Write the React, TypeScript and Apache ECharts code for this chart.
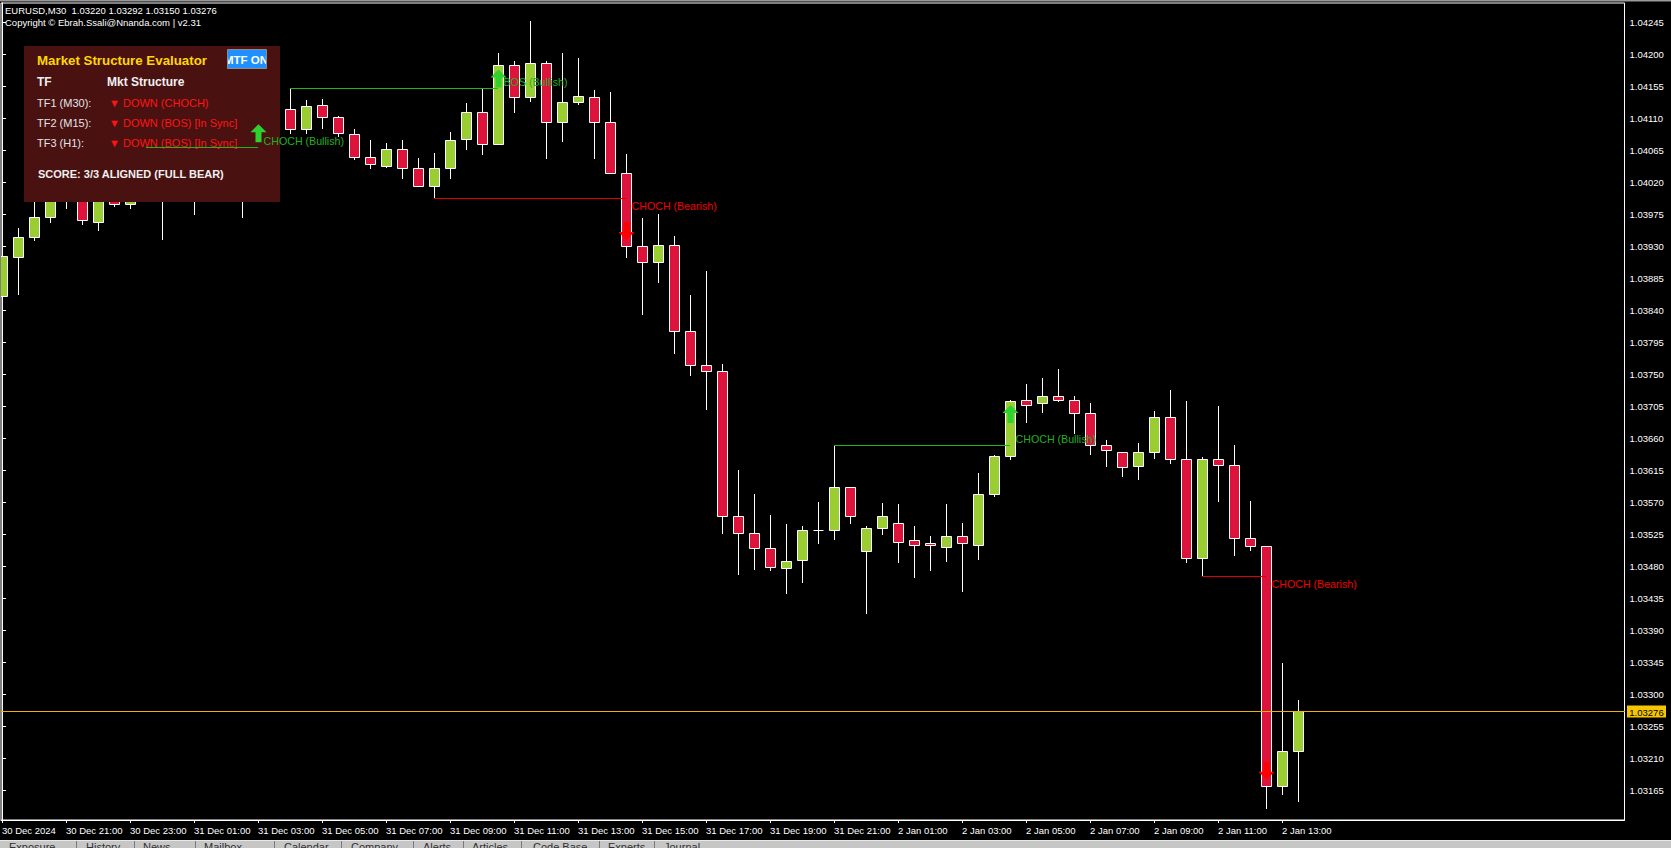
import React, { useEffect, useRef } from "react";
import * as echarts from "echarts";

// ---------- DATA ----------
const opens = [
  1.03859, 1.03915, 1.03943, 1.03971, 1.04023, 1.04000, 1.03964, 1.04020, 1.03989, 1.04040,
  1.04010, 1.04020, 1.04000, 1.04025, 1.04005, 1.04030, 1.04015, 1.04107, 1.04123, 1.04094,
  1.04128, 1.04111, 1.04087, 1.04055, 1.04043, 1.04067, 1.04039, 1.04015, 1.04039, 1.04080,
  1.04119, 1.04074, 1.04184, 1.04139, 1.04187, 1.04104, 1.04132, 1.04139, 1.04105, 1.04032,
  1.03930, 1.03908, 1.03932, 1.03810, 1.03762, 1.03754, 1.03550, 1.03526, 1.03505, 1.03477,
  1.03488, 1.03530, 1.03530, 1.03591, 1.03501, 1.03534, 1.03541, 1.03516, 1.03512, 1.03507,
  1.03522, 1.03510, 1.03581, 1.03634, 1.03713, 1.03709, 1.03719, 1.03714, 1.03695, 1.03650,
  1.03641, 1.03620, 1.03640, 1.03689, 1.03631, 1.03491, 1.03631, 1.03622, 1.03519, 1.03508,
  1.03170, 1.03220,
];
const highs = [
  1.03924, 1.03956, 1.03995, 1.04037, 1.04045, 1.04010, 1.04025, 1.04030, 1.04050, 1.04069,
  1.04040, 1.04035, 1.04045, 1.04040, 1.04045, 1.04040, 1.04111, 1.04130, 1.04152, 1.04135,
  1.04137, 1.04113, 1.04095, 1.04079, 1.04075, 1.04079, 1.04054, 1.04061, 1.04090, 1.04131,
  1.04151, 1.04201, 1.04190, 1.04246, 1.04190, 1.04201, 1.04195, 1.04149, 1.04146, 1.04059,
  1.03969, 1.03975, 1.03944, 1.03861, 1.03895, 1.03764, 1.03615, 1.03581, 1.03552, 1.03539,
  1.03536, 1.03570, 1.03650, 1.03591, 1.03536, 1.03568, 1.03567, 1.03536, 1.03522, 1.03567,
  1.03540, 1.03611, 1.03636, 1.03714, 1.03736, 1.03744, 1.03757, 1.03719, 1.03709, 1.03657,
  1.03641, 1.03653, 1.03698, 1.03728, 1.03712, 1.03633, 1.03705, 1.03650, 1.03571, 1.03508,
  1.03343, 1.03292,
];
const lows = [
  1.03852, 1.03863, 1.03939, 1.03964, 1.03983, 1.03961, 1.03953, 1.03986, 1.03984, 1.04000,
  1.03940, 1.03995, 1.03975, 1.03998, 1.03995, 1.03971, 1.04005, 1.04095, 1.04089, 1.04089,
  1.04096, 1.04085, 1.04053, 1.04039, 1.04041, 1.04026, 1.04014, 1.03998, 1.04025, 1.04067,
  1.04060, 1.04073, 1.04118, 1.04134, 1.04054, 1.04078, 1.04129, 1.04054, 1.04032, 1.03914,
  1.03835, 1.03880, 1.03780, 1.03749, 1.03701, 1.03527, 1.03469, 1.03476, 1.03475, 1.03442,
  1.03457, 1.03513, 1.03518, 1.03540, 1.03414, 1.03525, 1.03486, 1.03465, 1.03475, 1.03487,
  1.03445, 1.03490, 1.03579, 1.03631, 1.03683, 1.03696, 1.03712, 1.03667, 1.03638, 1.03621,
  1.03606, 1.03602, 1.03632, 1.03625, 1.03486, 1.03466, 1.03572, 1.03495, 1.03502, 1.03140,
  1.03160, 1.03150,
];
const closes = [
  1.03916, 1.03942, 1.03971, 1.04023, 1.04000, 1.03966, 1.04010, 1.03989, 1.04030, 1.04010,
  1.04020, 1.04000, 1.04025, 1.04005, 1.04030, 1.04015, 1.04107, 1.04122, 1.04094, 1.04127,
  1.04111, 1.04089, 1.04055, 1.04045, 1.04067, 1.04039, 1.04015, 1.04039, 1.04079, 1.04119,
  1.04074, 1.04184, 1.04139, 1.04188, 1.04104, 1.04132, 1.04141, 1.04105, 1.04032, 1.03930,
  1.03908, 1.03932, 1.03810, 1.03762, 1.03754, 1.03550, 1.03526, 1.03505, 1.03478, 1.03487,
  1.03530, 1.03530, 1.03591, 1.03550, 1.03534, 1.03550, 1.03514, 1.03510, 1.03509, 1.03522,
  1.03512, 1.03581, 1.03634, 1.03712, 1.03707, 1.03719, 1.03714, 1.03695, 1.03650, 1.03643,
  1.03619, 1.03640, 1.03689, 1.03631, 1.03491, 1.03630, 1.03622, 1.03519, 1.03508, 1.03171,
  1.03220, 1.03276,
];

const xTickIndex = [0, 4, 8, 12, 16, 20, 24, 28, 32, 36, 40, 44, 48, 52, 56, 60, 64, 68, 72, 76, 80];
const xTickLabels = [
  "30 Dec 2024", "30 Dec 21:00", "30 Dec 23:00", "31 Dec 01:00", "31 Dec 03:00", "31 Dec 05:00",
  "31 Dec 07:00", "31 Dec 09:00", "31 Dec 11:00", "31 Dec 13:00", "31 Dec 15:00", "31 Dec 17:00",
  "31 Dec 19:00", "31 Dec 21:00", "2 Jan 01:00", "2 Jan 03:00", "2 Jan 05:00", "2 Jan 07:00",
  "2 Jan 09:00", "2 Jan 11:00", "2 Jan 13:00",
];
const yTickLabels = [
  "1.03165", "1.03210", "1.03255", "1.03300", "1.03345", "1.03390", "1.03435", "1.03480",
  "1.03525", "1.03570", "1.03615", "1.03660", "1.03705", "1.03750", "1.03795", "1.03840",
  "1.03885", "1.03930", "1.03975", "1.04020", "1.04065", "1.04110", "1.04155", "1.04200", "1.04245",
];
const currentPrice = 1.03276;

const signalFrom = [9, 18, 27, 52, 75];
const signalTo = [16, 31, 39, 63, 79];
const signalLevel = [1.04069, 1.04152, 1.03998, 1.03650, 1.03466];
const signalDir = ["bull", "bull", "bear", "bull", "bear"];
const signalText = ["CHOCH (Bullish)", "BOS (Bullish)", "CHOCH (Bearish)", "CHOCH (Bullish)", "CHOCH (Bearish)"];

const panelTitle = "Market Structure Evaluator";
const panelHeaders = ["TF", "Mkt Structure"];
const panelRowLabels = ["TF1 (M30):", "TF2 (M15):", "TF3 (H1):"];
const panelRowValues = ["\u25BC DOWN (CHOCH)", "\u25BC DOWN (BOS) [In Sync]", "\u25BC DOWN (BOS) [In Sync]"];
const panelScore = "SCORE: 3/3 ALIGNED (FULL BEAR)";
const symbolLine = "EURUSD,M30";
const copyrightLine = "Copyright \u00A9 Ebrah.Ssali@Nnanda.com | v2.31";
const tabNames = ["Exposure", "History", "News", "Mailbox", "Calendar", "Company", "Alerts", "Articles", "Code Base", "Experts", "Journal"];

// ---------- LAYOUT / STYLE ----------
const W = 1671;
const H = 848;
const GRID = { left: 1, top: 3, width: 1623.5, height: 817 };
const X_MIN = -0.0625;
const X_MAX = X_MIN + GRID.width / 16;
const Y_MAX = 1.04245 + 19 * 0.0000140625;
const Y_MIN = Y_MAX - GRID.height * 0.0000140625;
const tabX = [9, 86, 143, 204, 284, 351, 423, 472, 533, 608, 664];
const tabSepX = [76, 134, 195, 274, 341, 413, 463, 521, 599, 654];

const BULL = "#9ACD32";
const BEAR = "#DC143C";
const AXIS_FONT = '"Liberation Sans", Arial, sans-serif';
const AXIS_SIZE = 9.5;
const PANEL_FONT = '"Liberation Sans", Arial, sans-serif';
const PANEL_BG = "#4a1111";

const candleData = opens.map((o, i) => [i, o, highs[i], lows[i], closes[i]]);
const signalData = signalFrom.map((f, k) => [f, signalTo[k], signalLevel[k], closes[signalTo[k]]]);
const yTickValues = yTickLabels.map((s) => parseFloat(s));
const priceData = [[X_MIN, currentPrice]];

function renderCandle(params: any, api: any) {
  const i = api.value(0);
  const o = api.value(1);
  const h = api.value(2);
  const l = api.value(3);
  const c = api.value(4);
  const pO = api.coord([i, o]);
  const pC = api.coord([i, c]);
  const pH = api.coord([i, h]);
  const pL = api.coord([i, l]);
  const cx = Math.round(pO[0]) + 0.5;
  const yTop = Math.round(Math.min(pO[1], pC[1])) + 0.5;
  const yBot = Math.round(Math.max(pO[1], pC[1])) + 0.5;
  const up = c >= o;
  const children: any[] = [
    {
      type: "line",
      shape: { x1: cx, y1: Math.round(pH[1]), x2: cx, y2: Math.round(pL[1]) + 1 },
      style: { stroke: "#ffffff", lineWidth: 1 },
    },
  ];
  if (yBot - yTop < 1) {
    children.push({
      type: "line",
      shape: { x1: cx - 5, y1: yTop, x2: cx + 5, y2: yTop },
      style: { stroke: "#ffffff", lineWidth: 1 },
    });
  } else {
    children.push({
      type: "rect",
      shape: { x: cx - 5, y: yTop, width: 10, height: yBot - yTop },
      style: { fill: up ? BULL : BEAR, stroke: "#ffffff", lineWidth: 1 },
    });
  }
  return { type: "group", children };
}

function renderPrice(params: any, api: any) {
  const p = api.value(1);
  const a = api.coord([X_MIN, p]);
  const b = api.coord([X_MAX, p]);
  const y = Math.round(a[1]) + 0.5;
  const xr = Math.round(b[0]);
  return {
    type: "group",
    children: [
      {
        type: "line",
        shape: { x1: Math.round(a[0]), y1: y, x2: xr, y2: y },
        style: { stroke: "#eab700", lineWidth: 1 },
      },
      {
        type: "rect",
        shape: { x: xr + 2, y: y - 6, width: 39, height: 12 },
        style: { fill: "#f6c600" },
      },
      {
        type: "text",
        x: xr + 21.5,
        y: y + 0.5,
        style: {
          text: p.toFixed(5),
          fill: "#000000",
          fontSize: AXIS_SIZE,
          fontFamily: AXIS_FONT,
          align: "center",
          verticalAlign: "middle",
        },
      },
    ],
  };
}

function renderSignal(params: any, api: any) {
  const k = params.dataIndex;
  const from = api.value(0);
  const to = api.value(1);
  const level = api.value(2);
  const arrowP = api.value(3);
  const a = api.coord([from, level]);
  const b = api.coord([to, level]);
  const pa = api.coord([to, arrowP]);
  const bull = signalDir[k] === "bull";
  const ly = Math.round(a[1]) + 0.5;
  const ax = Math.round(pa[0]) + 0.5;
  const ay = pa[1] + (bull ? 13 : -15);
  const s = bull ? 1 : -1;
  const base = [[0, -9], [8, -1], [3, -1], [3, 9], [-3, 9], [-3, -1], [-8, -1]];
  const pts = base.map(([px, py]) => [ax + px, ay + s * py]);
  return {
    type: "group",
    children: [
      {
        type: "line",
        shape: { x1: Math.round(a[0]), y1: ly, x2: Math.round(b[0]), y2: ly },
        style: { stroke: bull ? "#1fb51f" : "#e00000", lineWidth: 1 },
      },
      {
        type: "polygon",
        shape: { points: pts },
        style: { fill: bull ? "#2fd12f" : "#ff0000" },
      },
      {
        type: "text",
        x: ax + 5,
        y: ly + (bull ? -7 : 7),
        style: {
          text: signalText[k],
          fill: bull ? "#22b022" : "#f00000",
          fontSize: 10.67,
          fontFamily: PANEL_FONT,
          align: "left",
          verticalAlign: "middle",
        },
      },
    ],
  };
}

function buildGraphics() {
  const els: any[] = [];
  els.push({ type: "rect", z: 80, shape: { x: 0, y: 0, width: W, height: 1.5 }, style: { fill: "#9a9a9a" } });
  const ohlc = `${opens[opens.length - 1].toFixed(5)} ${highs[highs.length - 1].toFixed(5)} ${lows[lows.length - 1].toFixed(5)} ${closes[closes.length - 1].toFixed(5)}`;
  els.push({
    type: "text", z: 80, x: 5, y: 10.5,
    style: { text: `${symbolLine}  ${ohlc}`, fill: "#ffffff", fontSize: 9.5, fontFamily: AXIS_FONT, verticalAlign: "middle" },
  });
  els.push({
    type: "text", z: 80, x: 5, y: 22,
    style: { text: copyrightLine, fill: "#ffffff", fontSize: 9.5, fontFamily: AXIS_FONT, verticalAlign: "middle" },
  });
  // panel
  els.push({ type: "rect", z: 50, shape: { x: 24, y: 46, width: 256, height: 156 }, style: { fill: PANEL_BG } });
  els.push({
    type: "text", z: 51, x: 37, y: 60.5,
    style: { text: panelTitle, fill: "#FFD700", fontSize: 13.3, fontWeight: "bold", fontFamily: PANEL_FONT, verticalAlign: "middle" },
  });
  els.push({ type: "rect", z: 51, shape: { x: 227.5, y: 49.5, width: 39, height: 19 }, style: { fill: "#1E90FF" } });
  els.push({
    type: "text", z: 52, x: 246, y: 59.5,
    style: { text: "MTF ON", fill: "#ffffff", fontSize: 11.5, fontWeight: "bold", fontFamily: PANEL_FONT, align: "center", verticalAlign: "middle" },
  });
  els.push({ type: "rect", z: 53, shape: { x: 215, y: 49, width: 12.5, height: 20 }, style: { fill: PANEL_BG } });
  els.push({ type: "rect", z: 53, shape: { x: 267, y: 49, width: 12.5, height: 20 }, style: { fill: PANEL_BG } });
  els.push({ type: "rect", z: 54, shape: { x: 227.5, y: 49.5, width: 39, height: 19 }, style: { fill: "none", stroke: "#8c8c8c", lineWidth: 1 } });
  els.push({
    type: "text", z: 51, x: 37, y: 81.5,
    style: { text: panelHeaders[0], fill: "#f0f0f0", fontSize: 12, fontWeight: "bold", fontFamily: PANEL_FONT, verticalAlign: "middle" },
  });
  els.push({
    type: "text", z: 51, x: 107, y: 81.5,
    style: { text: panelHeaders[1], fill: "#f0f0f0", fontSize: 12, fontWeight: "bold", fontFamily: PANEL_FONT, verticalAlign: "middle" },
  });
  const rowY = [103, 123.3, 143.3];
  panelRowLabels.forEach((t, r) => {
    els.push({
      type: "text", z: 51, x: 37, y: rowY[r],
      style: { text: t, fill: "#e4e4e4", fontSize: 11, fontFamily: PANEL_FONT, verticalAlign: "middle" },
    });
    els.push({
      type: "text", z: 51, x: 109, y: rowY[r],
      style: { text: panelRowValues[r], fill: "#ff1414", fontSize: 11, fontFamily: PANEL_FONT, verticalAlign: "middle" },
    });
  });
  els.push({
    type: "text", z: 51, x: 38, y: 173.5,
    style: { text: panelScore, fill: "#f0f0f0", fontSize: 11, fontWeight: "bold", fontFamily: PANEL_FONT, verticalAlign: "middle" },
  });
  // bottom tab bar
  els.push({ type: "rect", z: 80, shape: { x: 0, y: 840, width: W, height: 8 }, style: { fill: "#c6c6c6" } });
  els.push({ type: "rect", z: 80, shape: { x: 0, y: 840, width: W, height: 1 }, style: { fill: "#e8e8e8" } });
  tabNames.forEach((t, k) => {
    els.push({
      type: "text", z: 81, x: tabX[k], y: 841,
      style: { text: t, fill: "#303030", fontSize: 11, fontFamily: PANEL_FONT, verticalAlign: "top" },
    });
  });
  tabSepX.forEach((x) => {
    els.push({ type: "rect", z: 81, shape: { x, y: 841, width: 1, height: 7 }, style: { fill: "#7a7a7a" } });
  });
  return els;
}

export default function App() {
  const ref = useRef<HTMLDivElement>(null);
  useEffect(() => {
    if (!ref.current) return;
    const chart = echarts.init(ref.current, null, { renderer: "svg" });
    const option: any = {
      animation: false,
      backgroundColor: "#000000",
      grid: {
        left: GRID.left, top: GRID.top, width: GRID.width, height: GRID.height,
        show: true, borderColor: "#ffffff", borderWidth: 1, backgroundColor: "#000000",
        containLabel: false, outerBoundsMode: "none",
      },
      xAxis: {
        type: "value", min: X_MIN, max: X_MAX,
        axisLine: { show: true, lineStyle: { color: "#ffffff", width: 1 } },
        axisTick: { show: true, length: 3, customValues: xTickIndex, lineStyle: { color: "#ffffff" } },
        axisLabel: {
          show: true, customValues: xTickIndex,
          formatter: (v: number) => xTickLabels[xTickIndex.indexOf(Math.round(v))] ?? "",
          color: "#ffffff", fontSize: AXIS_SIZE, fontFamily: AXIS_FONT, align: "left", margin: 5,
        },
        splitLine: { show: false },
      },
      yAxis: {
        type: "value", position: "right", min: Y_MIN, max: Y_MAX, scale: true,
        axisLine: { show: true, lineStyle: { color: "#ffffff", width: 1 } },
        axisTick: { show: true, length: 4, customValues: yTickValues, lineStyle: { color: "#ffffff" } },
        axisLabel: {
          show: true, customValues: yTickValues,
          formatter: (v: number) => v.toFixed(5),
          color: "#ffffff", fontSize: AXIS_SIZE, fontFamily: AXIS_FONT, margin: 5,
        },
        splitLine: { show: false },
      },
      series: [
        {
          type: "custom", name: "EURUSD", z: 2, clip: true,
          data: candleData, encode: { x: 0, y: [1, 2, 3, 4] },
          renderItem: renderCandle,
        },
        {
          type: "custom", name: "price", z: 3, clip: false, silent: true,
          data: priceData, encode: { x: 0, y: 1 },
          renderItem: renderPrice,
        },
        {
          type: "custom", name: "signals", z: 60, clip: false,
          data: signalData, encode: { x: [0, 1], y: [2, 3] },
          renderItem: renderSignal,
        },
      ],
      graphic: { elements: buildGraphics() },
    };
    chart.setOption(option);
    return () => chart.dispose();
  }, []);
  return (
    <div
      ref={ref}
      style={{ position: "fixed", left: 0, top: 0, width: W, height: H, background: "#000" }}
    />
  );
}
